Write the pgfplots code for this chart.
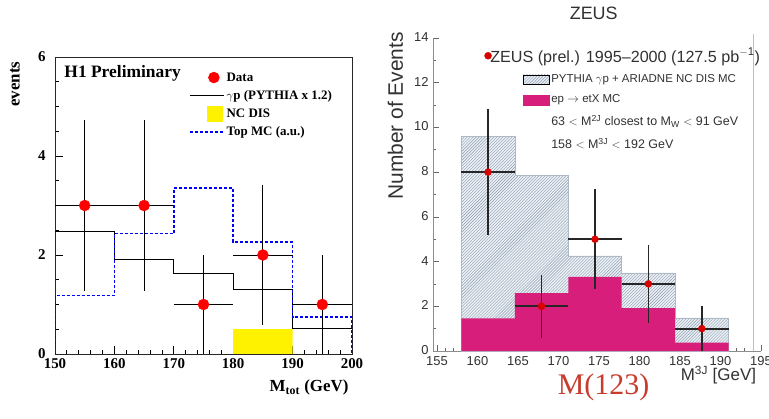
\documentclass[border=0pt]{standalone}
\usepackage{pgfplots}
\pgfplotsset{compat=1.18}
\usetikzlibrary{patterns}
\usepackage{fontspec}
\setmainfont{Liberation Serif}
\newfontfamily\hv{Liberation Sans}
\definecolor{zmag}{RGB}{214,30,122}
\definecolor{hbg}{RGB}{236,241,247}
\definecolor{hln}{RGB}{140,155,172}
\definecolor{mred}{RGB}{200,60,45}
\definecolor{zgray}{RGB}{50,50,50}
\newcommand{\fs}[1]{\fontsize{#1}{#1}\selectfont}
\begin{document}
\begin{tikzpicture}
\useasboundingbox[fill=white] (0,0) rectangle (769bp,419bp);
% ---------------- H1 panel ----------------
\begin{axis}[
  at={(55bp,65bp)}, anchor=south west,
  scale only axis, width=297bp, height=297bp,
  xmin=150, xmax=200, ymin=0, ymax=6,
  xtick={150,160,...,200}, ytick={0,2,4,6},
  minor x tick num=4, minor y tick num=3,
  tick pos=left, tick align=inside,
  major tick length=8bp, minor tick length=4bp,
  axis line style={line width=0.8bp, black!85},
  every tick/.style={black, line width=0.8bp},
  /pgf/number format/assume math mode=true,
  tick label style={font=\bfseries\fs{15}},
  xticklabel style={yshift=-1bp},
  yticklabel style={xshift=-6bp},
  xlabel={M\textsubscript{tot} (GeV)},
  every axis x label/.style={at={(axis description cs:1,-0.114)}, anchor=east, font=\bfseries\fs{17}},
  ylabel={events},
  every axis y label/.style={at={(axis description cs:-0.135,0.997)}, rotate=90, anchor=east, font=\bfseries\fs{17}},
  legend style={draw=none, fill=none, at={(axis description cs:0.451,0.955)}, anchor=north west,
    inner sep=0pt, row sep=3.5bp, font=\bfseries\fs{13},
    /tikz/every even column/.append style={column sep=5bp}},
  legend cell align=left,
]
\addlegendimage{legend image code/.code={\fill[red] (24bp,0) circle (5.5bp);}}
\addlegendentry{Data}
\addlegendimage{legend image code/.code={\draw[black, line width=1bp] (0,0) -- (34bp,0);}}
\addlegendentry{$\gamma$p (PYTHIA x 1.2)}
\addlegendimage{legend image code/.code={\fill[yellow] (17bp,-7.5bp) rectangle (32bp,7.5bp);}}
\addlegendentry{NC DIS}
\addlegendimage{legend image code/.code={\draw[blue, line width=1.5bp, dash pattern=on 3bp off 2bp] (0,0) -- (34bp,0);}}
\addlegendentry{Top MC (a.u.)}
% NC DIS
\addplot[fill=yellow, draw=none, const plot, forget plot] coordinates {(180,0.5) (190,0.5)} \closedcycle;
% gamma p
\addplot[black, line width=1bp, const plot, forget plot] coordinates {(150,2.48) (160,1.90) (170,1.62) (180,1.31) (190,0.51) (200,0.51)};
% Top MC
\addplot[blue, line width=1.5bp, dash pattern=on 3bp off 2bp, const plot, forget plot] coordinates {(150,0) (150,1.18) (160,2.43) (170,3.35) (180,2.26) (190,0.75) (200,0.75) (200,0)};
% Data
\addplot[only marks, mark=*, mark size=5.5bp, color=red, forget plot,
  error bars/.cd, x dir=both, x explicit, y dir=both, y explicit,
  error bar style={black, line width=1bp}, error mark=none]
  coordinates {
  (155,3) +- (5,1.73)
  (165,3) +- (5,1.73)
  (175,1) +- (5,1)
  (185,2) +- (5,1.41)
  (195,1) +- (5,1)
  };
\node[anchor=west, font=\bfseries\fs{17.5}] at (axis description cs:0.02,0.945) {H1 Preliminary};
\end{axis}
% ---------------- ZEUS panel ----------------
\begin{axis}[
  at={(433bp,68bp)}, anchor=south west,
  scale only axis, width=328bp, height=313bp,
  xmin=154.5, xmax=195, ymin=0, ymax=14,
  axis x line*=bottom, axis y line*=left,
  xtick={155,160,...,195}, ytick={0,2,...,14},
  minor x tick num=4, minor y tick num=1,
  tick align=inside,
  major tick length=6bp, minor tick length=3bp,
  axis line style={line width=0.8bp, black!45},
  every tick/.style={black!60, line width=0.7bp},
  /pgf/number format/assume math mode=true,
  tick label style={font=\hv\fs{13}, text=zgray},
  xticklabel style={yshift=-2bp},
  yticklabel style={xshift=-1bp, yshift=1bp},
  xlabel={M\textsuperscript{3J} [GeV]},
  every axis x label/.style={at={(axis description cs:0.745,-0.077)}, anchor=west, font=\hv\fs{17}, text=zgray},
  ylabel={Number of Events},
  every axis y label/.style={at={(axis description cs:-0.115,1.03)}, rotate=90, anchor=east, font=\hv\fs{21}, text=zgray},
  legend style={draw=none, fill=none, at={(axis description cs:0.156,0.975)}, anchor=north west,
    inner sep=0pt, row sep=7bp, font=\hv\fs{11.5}, text=zgray,
    /tikz/every even column/.append style={column sep=4bp}},
  legend cell align=left,
  clip=false,
]
\addlegendimage{legend image code/.code={\fill[red!85!black] (-35bp,0) circle (3.5bp);}}
\addlegendentry{\hspace*{-61bp}\fs{16.2}ZEUS (prel.) 1995\textendash 2000 (127.5 pb\textsuperscript{$-$1})}
\addlegendimage{legend image code/.code={\fill[hbg] (0,-4.5bp) rectangle (26bp,4.5bp); \fill[pattern=north east lines, pattern color=hln] (0,-4.5bp) rectangle (26bp,4.5bp);}}
\addlegendentry{PYTHIA $\gamma$p + ARIADNE NC DIS MC}
\addlegendimage{legend image code/.code={\fill[zmag] (0,-5bp) rectangle (26bp,5bp);}}
\addlegendentry{ep $\rightarrow$ etX MC}
\addlegendimage{empty legend}
\addlegendentry{\fs{12.5}63 $<$ M\textsuperscript{2J} closest to M\textsubscript{W} $<$ 91 GeV}
\addlegendimage{empty legend}
\addlegendentry{\fs{12.5}158 $<$ M\textsuperscript{3J} $<$ 192 GeV}
% total MC (hatched)
\addplot[fill=hbg, draw=none, const plot, forget plot] coordinates {(158,9.6) (164.6,7.87) (171.2,4.26) (177.8,3.49) (184.4,1.48) (191,1.48)} \closedcycle;
\addplot[pattern=north east lines, pattern color=hln, draw=hln!70, line width=0.5bp, const plot, forget plot] coordinates {(158,9.6) (164.6,7.87) (171.2,4.26) (177.8,3.49) (184.4,1.48) (191,1.48)} \closedcycle;
% top MC (magenta)
\addplot[fill=zmag, draw=none, const plot, forget plot] coordinates {(158,1.46) (164.6,2.59) (171.2,3.31) (177.8,1.92) (184.4,0.37) (191,0.37)} \closedcycle;
% data
\addplot[only marks, mark=*, mark size=3.5bp, color=red!85!black, forget plot,
  error bars/.cd, x dir=both, x explicit, y dir=both, y explicit,
  error bar style={black!85, line width=1.8bp}, error mark=none]
  coordinates {
  (161.3,8) +- (3.3,2.83)
  (167.9,2) +- (3.3,1.41)
  (174.5,5) +- (3.3,2.24)
  (181.1,3) +- (3.3,1.73)
  (187.7,1) +- (3.3,1)
  };
\draw[black!25, line width=0.7bp] (axis cs:194,0) -- (axis cs:194,14.2);
\node[font=\hv\fs{18}, text=zgray] at (axis description cs:0.49,1.08) {ZEUS};
\node[font=\fs{30}, text=mred] at (axis description cs:0.52,-0.115) {M(123)};
\end{axis}
\end{tikzpicture}
\end{document}
